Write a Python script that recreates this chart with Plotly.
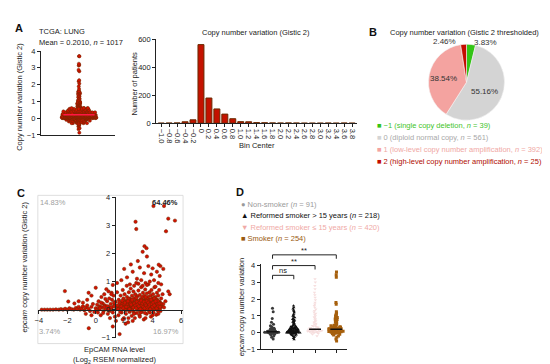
import math
import plotly.graph_objects as go

W, H = 550, 364
FONT = "Liberation Sans, Arial, sans-serif"

# ---------------- data ----------------
# Panel C: EpCAM RNA level (x) vs epcam CNV (y); y values reused for the panel A swarm
C_RNA = [
    -3.8, -3.6, -3.4, -3.2, -3.0, -2.8, -2.6, -2.45, -2.3, -2.15, -2.0, -1.85, -1.7, -1.55,
    -1.4, -1.3, -1.2, -1.1, -1.0, -0.9, -0.8, -0.7, -0.6, -0.5, -0.4, -0.3, -0.2, -0.1,
    -2.17, -1.93, -1.5, -1.2, -0.9, -0.6, -0.5, -0.3, 0.0, -0.49, -0.7, -0.3,
    0.0, 0.1, 0.15, 0.2, 0.25, 0.3, 0.35, 0.4, 0.45, 0.5, 0.55, 0.6, 0.65, 0.7, 0.75, 0.8,
    0.85, 0.9, 0.95, 1.0, 1.05, 1.1, 1.15, 1.2, 1.25, 1.3, 1.35, 1.4, 1.45, 1.5,
    0.05, 0.22, 0.38, 0.52, 0.68, 0.82, 0.97, 1.12, 1.28, 1.42,
    1.55, 1.6, 1.62, 1.68, 1.7, 1.75, 1.78, 1.82, 1.85, 1.9, 1.92, 1.95, 1.98, 2.0, 2.03,
    2.06, 2.1, 2.12, 2.15, 2.18, 2.2, 2.23, 2.25, 2.28, 2.3, 2.33, 2.36, 2.38, 2.4, 2.43,
    2.46, 2.48, 2.5, 2.53, 2.55, 2.58, 2.6, 2.62, 2.65, 2.68, 2.7, 2.72, 2.75, 2.78, 2.8,
    2.82, 2.85, 2.88, 2.9, 2.92, 2.95, 2.98, 3.0, 3.02, 3.05, 3.08, 3.1, 3.12, 3.15, 3.18,
    3.2, 3.22, 3.25, 3.28, 3.3, 3.32, 3.35, 3.38, 3.4, 3.42, 3.45, 3.48, 3.5, 3.52, 3.55,
    3.58, 3.6, 3.62, 3.65, 3.68, 3.7, 3.72, 3.75, 3.78, 3.8, 3.82, 3.85, 3.88, 3.9, 3.92,
    3.95, 3.98, 4.0, 4.03, 4.06, 4.1, 4.13, 4.16, 4.2, 4.23, 4.26, 4.3, 4.33, 4.36, 4.4,
    4.43, 4.46, 4.5, 4.55, 4.6, 4.65, 4.7, 4.75, 4.8, 4.9, 5.1, 5.2,
    1.65, 1.88, 2.08, 2.27, 2.44, 2.57, 2.66, 2.77, 2.87, 2.97, 3.04, 3.13, 3.23, 3.33,
    3.43, 3.53, 3.63, 3.73, 3.83, 3.93, 4.04, 4.14, 4.24, 4.34, 4.44, 2.52, 2.92, 3.27,
    3.57, 3.87, 4.18, 2.35, 2.72, 3.16, 3.46, 3.76, 4.08, 4.38, 2.2, 1.95,
    2.0, 2.6, 3.1, 3.4, 3.7, 3.9, 4.3, 4.5, 2.2, 2.9, 3.2, 3.5, 3.8, 4.1, 4.4, 1.5, 1.8,
    2.4, 2.7, 3.0, 3.3, 3.6, 4.2, 4.6, 1.2, 0.9, 1.1, 4.75, 4.55,
    2.1, 1.2, 2.6, 3.1, 3.5, 4.0, 4.4, 1.9, 2.3,
    4.06, 4.8, 5.1, 5.57, 4.94, 2.8, 2.85, 3.43, 3.57, 3.3, 3.6, 2.47, 2.96, 4.43, 4.0,
    1.52, 1.58, 1.66, 1.72, 1.8, 1.86, 1.94, 2.02, 2.09, 2.16, 2.24, 2.31, 2.39, 2.45, 2.51,
    2.59, 2.63, 2.69, 2.74, 2.81, 2.86, 2.91, 2.96, 3.01, 3.06, 3.11, 3.17, 3.21, 3.26, 3.31,
    3.36, 3.41, 3.47, 3.51, 3.56, 3.61, 3.66, 3.71, 3.77, 3.81, 3.86, 3.91, 3.96, 4.01, 4.07,
    4.11, 4.17, 4.22, 4.27, 4.32, 4.37, 4.42, 4.48, 4.53, 4.58,
    2.05, 2.14, 2.26, 2.37, 2.49, 2.56, 2.64, 2.71, 2.79, 2.84, 2.89, 2.94, 3.03, 3.09, 3.14,
    3.19, 3.24, 3.29, 3.34, 3.39, 3.44, 3.49, 3.54, 3.59, 3.64, 3.69, 3.74, 3.79, 3.84, 3.89,
    3.94, 3.99, 4.05, 4.12, 4.21, 4.29, 4.35, 4.41, 4.47, 4.52,
    0.3, 0.6, 0.9, 1.1, 1.3,
]
C_CNV = [
    0.0, 0.0, 0.0, 0.0, 0.0, 0.01, 0.0, 0.02, 0.0, 0.03, 0.0, 0.05, 0.02, 0.0,
    0.06, 0.02, 0.1, 0.0, 0.04, 0.12, -0.02, 0.07, 0.15, 0.03, -0.05, 0.1, 0.2, -0.08,
    0.66, 0.29, 0.22, 0.3, 0.25, 0.35, 0.6, 0.5, 0.78, -0.66, -0.15, -0.2,
    0.05, 0.18, -0.1, 0.3, 0.02, 0.12, -0.2, 0.45, 0.08, 0.22, -0.05, 0.55, 0.15, 0.02, 0.73, 0.3,
    -0.15, 0.1, 0.4, -0.3, 0.2, 0.05, 0.35, -0.1, 0.5, 0.15, -0.25, 0.28, 0.02, 0.62,
    -0.02, 0.08, 0.25, -0.12, 0.38, 0.12, -0.05, 0.6, 0.25, -0.4,
    0.1, -0.2, 0.35, -0.87, 0.05, 0.5, 0.18, -0.1, 0.28, 0.7, 0.02, 0.4, -0.3, 0.15, 0.55,
    0.08, 0.32, -0.15, 0.22, 0.85, 0.45, 0.0, 0.3, -0.45, 0.12, 0.62, 0.25, -0.08, 0.4, 0.18,
    0.75, 0.05, 0.35, -0.22, 0.5, 0.15, 0.28, -0.05, 0.65, 0.1, 0.42, 0.22, -0.3, 0.55, 0.08,
    0.35, 0.95, 0.18, -0.12, 0.48, 0.25, 0.02, 0.68, 0.3, 0.12, -0.2, 0.52, 0.2, 0.38, 0.05,
    0.8, 0.28, -0.08, 0.45, 0.15, 0.6, 0.32, -0.35, 0.1, 0.5, 0.22, 0.72, 0.02, 0.4, 0.18,
    -0.15, 0.58, 0.3, 0.08, 0.45, 0.9, 0.2, -0.05, 0.62, 0.35, 0.12, 0.5, -0.25, 0.25, 0.7,
    0.05, 0.42, 0.18, 0.55, -0.1, 0.3, 0.8, 0.1, 0.45, 0.22, -0.18, 0.6, 0.35, 0.05, 0.5,
    0.15, 0.7, 0.28, -0.05, 0.4, 0.12, 0.55, 0.2, 0.08, 0.3, 0.65, 0.55,
    0.12, 0.22, 0.02, 0.18, 0.3, 0.02, 0.2, 0.12, 0.3, 0.15, 0.22, 0.1, 0.18, 0.05,
    0.3, 0.25, 0.15, 0.35, 0.22, 0.12, 0.28, 0.2, 0.35, 0.15, 0.25, 0.1, 0.08, 0.35,
    0.4, 0.05, 0.02, 0.05, -0.12, -0.1, -0.12, 0.15, 0.4, -0.05, 0.2, 0.1,
    1.45, 1.35, 1.5, 1.3, 1.55, 1.25, 1.35, 1.2, 1.15, 1.1, 1.05, 0.95, 1.0, 1.05, 0.95, 0.95, 1.05,
    0.9, 0.85, 0.92, 0.85, 0.88, 0.82, 0.9, 0.88, 0.65, 0.55, 1.45, 1.55,
    -0.5, -0.6, -0.4, -0.25, -0.3, -0.2, -0.15, -0.35, -0.3,
    3.69, 3.69, 3.24, 3.17, 2.79, 3.13, 2.87, 2.26, 2.19, 2.06, 1.89, 1.61, 1.73, 1.6, 1.47,
    0.15, 0.02, 0.25, -0.08, 0.12, 0.32, 0.05, 0.2, -0.02, 0.28, 0.1, 0.38, 0.0, 0.22, 0.15,
    0.3, 0.08, -0.15, 0.25, 0.12, 0.42, 0.05, 0.18, 0.3, -0.02, 0.1, 0.22, 0.35, 0.0, 0.15,
    0.28, 0.08, 0.2, 0.45, 0.12, 0.02, 0.25, 0.18, 0.32, -0.1, 0.1, 0.22, 0.3, 0.05, 0.15,
    0.4, 0.25, 0.1, 0.2, 0.02, 0.3, 0.12, 0.18, 0.05, 0.22,
    0.25, 0.1, 0.3, 0.02, 0.18, 0.35, 0.08, 0.22, 0.15, 0.05, 0.28, 0.18, 0.12, 0.25, 0.02,
    0.32, 0.15, 0.22, 0.1, 0.28, 0.05, 0.2, 0.15, 0.3, 0.08, 0.25, 0.12, 0.18, 0.02, 0.35,
    0.2, 0.1, 0.25, 0.15, 0.3, 0.05, 0.2, 0.12, 0.22, 0.1,
    0.05, 0.1, 0.02, 0.08, 0.12,
]
assert len(C_RNA) == len(C_CNV), (len(C_RNA), len(C_CNV))
C_RNA_SPLIT = 1.33
C_QUADRANT_PCT = {"ul": "14.83%", "ur": "64.46%", "ll": "3.74%", "lr": "16.97%"}

A_MEAN = 0.2010
A_N = 1017
A_CORE = (-0.3, 0.6)   # value band drawn as the wide part of the swarm

HIST_BIN_CENTERS = [-1.0, -0.8, -0.6, -0.4, -0.2, 0.0, 0.2, 0.4, 0.6, 0.8, 1.0, 1.2, 1.4,
                    1.6, 1.8, 2.0, 2.2, 2.4, 2.6, 2.8, 3.0, 3.2, 3.4, 3.6, 3.8]
HIST_COUNTS = [0, 1, 2, 10, 24, 562, 180, 102, 65, 32, 11, 10, 4, 3, 2, 1, 2, 1, 0, 0, 0, 1, 0, 1, 0]

PIE_CLASSES = ["\u22121 (single copy deletion, ", "0 (diploid normal copy, ",
               "1 (low-level copy number amplification, ", "2 (high-level copy number amplification, "]
PIE_COUNTS = [39, 561, 392, 25]
PIE_COLORS = ["#33c416", "#d4d4d4", "#f4a3a0", "#c40d00"]
PIE_TEXT_COLORS = ["#3fc42a", "#a9a9a9", "#f0a8a4", "#b00c00"]

D_GROUPS = ["Non-smoker", "Reformed smoker > 15 years", "Reformed smoker \u2264 15 years", "Smoker"]
D_N = [91, 218, 420, 254]
D_VALUES = [
    [1.45, 1.25, 0.85, 0.62, 0.5, 0.42, 0.35, 0.3, 0.27, 0.24, 0.21, 0.19, 0.17, 0.15, 0.13, 0.12,
     0.11, 0.1, 0.09, 0.08, 0.08, 0.07, 0.07, 0.06, 0.06, 0.05, 0.05, 0.05, 0.04, 0.04, 0.03, 0.03,
     0.03, 0.02, 0.02, 0.02, 0.01, 0.01, 0.0, 0.0, 0.0, -0.01, -0.02, -0.03, -0.05, -0.07, -0.1,
     -0.14, -0.2, -0.28, -0.38],
    [1.6, 1.5, 1.42, 1.35, 1.28, 1.2, 1.12, 1.05, 1.0, 0.95, 0.9, 0.85, 0.8, 0.76, 0.72, 0.68, 0.64,
     0.6, 0.57, 0.54, 0.51, 0.48, 0.45, 0.42, 0.4, 0.38, 0.36, 0.34, 0.32, 0.3, 0.29, 0.28, 0.27,
     0.26, 0.25, 0.24, 0.23, 0.22, 0.21, 0.2, 0.19, 0.18, 0.17, 0.16, 0.15, 0.15, 0.14, 0.13, 0.12,
     0.12, 0.11, 0.1, 0.1, 0.09, 0.09, 0.08, 0.08, 0.07, 0.07, 0.06, 0.06, 0.05, 0.05, 0.05, 0.04,
     0.04, 0.03, 0.03, 0.03, 0.02, 0.02, 0.02, 0.01, 0.01, 0.01, 0.0, 0.0, 0.0, 0.0, -0.01, -0.01,
     -0.02, -0.02, -0.03, -0.04, -0.05, -0.06, -0.08, -0.1, -0.12, -0.15, -0.18, -0.22, -0.27,
     -0.33, -0.4],
    [3.2, 3.0, 2.8, 2.6, 2.4, 2.25, 2.1, 1.95, 1.8, 1.7, 1.6, 1.5, 1.4, 1.3, 1.22, 1.15, 1.08, 1.0,
     0.94, 0.88, 0.82, 0.76, 0.7, 0.65, 0.6, 0.55, 0.5, 0.46, 0.42, 0.38, 0.35, 0.32, 0.3, 0.28,
     0.26, 0.24, 0.22, 0.21, 0.2, 0.2, 0.19, 0.18, 0.17, 0.16, 0.15, 0.14, 0.13, 0.12, 0.11, 0.1,
     0.09, 0.08, 0.07, 0.06, 0.05, 0.04, 0.03, 0.02, 0.01, 0.0, -0.02, -0.05, -0.1, -0.2],
    [3.62, 3.45, 3.3, 1.8, 1.7, 1.25, 1.18, 1.1, 1.05, 1.0, 0.95, 0.9, 0.86, 0.82, 0.78, 0.74, 0.7,
     0.66, 0.62, 0.58, 0.55, 0.52, 0.49, 0.46, 0.44, 0.42, 0.4, 0.38, 0.36, 0.34, 0.32, 0.3, 0.29,
     0.28, 0.27, 0.26, 0.25, 0.24, 0.23, 0.22, 0.21, 0.2, 0.2, 0.19, 0.18, 0.17, 0.16, 0.15, 0.14,
     0.13, 0.12, 0.11, 0.1, 0.09, 0.08, 0.07, 0.06, 0.05, 0.04, 0.03, 0.02, 0.01, 0.0, -0.02,
     -0.04, -0.07, -0.1, -0.14, -0.2, -0.28, -0.38, -0.5],
]
D_MEDIANS = [0.05, 0.1, 0.21, 0.2]
D_CORE = (-0.2, 0.45)
D_SYMBOLS = ["circle", "triangle-up", "triangle-down", "square"]
D_GLYPHS = ["\u25cf", "\u25b2", "\u25bc", "\u25a0"]
D_COLORS = ["#3a3a3a", "#111111", "#f6dede", "#a65f0c"]
D_LEGEND_COLORS = ["#9a9a9a", "#111111", "#f0aaa6", "#9a5a10"]
D_BRACKETS = [(1, 2, "ns", 3.42), (1, 3, "**", 4.0), (1, 4, "**", 4.64)]

FS = 7.5  # base font size


# ---------------- helpers ----------------
def dx(a, b):
    return [a / W, b / W]


def dy(top, bottom):
    return [1 - bottom / H, 1 - top / H]


def px(x):
    return x / W


def py(y):
    return 1 - y / H


ann = []


def text(x, y, s, size=FS, color="#222", xanchor="center", yanchor="middle", angle=0, bold=False):
    if bold:
        s = "<b>" + s + "</b>"
    ann.append(dict(x=px(x), y=py(y), xref="paper", yref="paper", text=s, showarrow=False,
                    xanchor=xanchor, yanchor=yanchor, textangle=angle,
                    font=dict(size=size, color=color, family=FONT)))


def swarm(vals, x0, width, core, jit_core, jit_tail, marker, xa, ya):
    core_v = [v for v in vals if core[0] <= v <= core[1]]
    tail_v = [v for v in vals if not (core[0] <= v <= core[1])]
    for part, jit in ((tail_v, jit_tail), (core_v, jit_core)):
        fig.add_trace(go.Box(y=part, x0=x0, boxpoints="all", jitter=jit, pointpos=0, width=width,
                             marker=marker, line=dict(color="rgba(0,0,0,0)", width=0),
                             fillcolor="rgba(0,0,0,0)", xaxis=xa, yaxis=ya, hoverinfo="skip"))


fig = go.Figure()
axis_common = dict(showgrid=False, zeroline=False, linecolor="#222", linewidth=1,
                   ticks="outside", ticklen=3, tickcolor="#222", tickwidth=1,
                   tickfont=dict(size=FS, family=FONT, color="#222"))

PT_RED = "#d41000"
PT_EDGE = "#6e2a00"

# ---------------- Panel A ----------------
swarm(C_CNV, 0, 1.0, A_CORE, 1.0, 0.12,
      dict(size=3.2, color=PT_RED, line=dict(color=PT_EDGE, width=0.5)), "x", "y")
fig.add_trace(go.Scatter(x=[-0.45, 0.45], y=[A_MEAN, A_MEAN], mode="lines",
                         line=dict(color="#ff1744", width=1.6), xaxis="x", yaxis="y"))
A_DOM = dict(x=dx(30, 105), y=dy(40, 126))
fig.update_layout(
    xaxis=dict(domain=A_DOM["x"], range=[-1.1, 1.05], showticklabels=False, ticks="",
               showline=True, showgrid=False, zeroline=False, linecolor="#222", anchor="y"),
    yaxis=dict(domain=A_DOM["y"], range=[-1, 4], tickvals=[-1, 0, 1, 2, 3, 4], showline=True,
               anchor="x", **axis_common),
)
text(8, 16, "A", size=11, bold=True, color="#111")
text(26, 20, "TCGA: LUNG", xanchor="left")
text(26, 31, f"Mean = {A_MEAN:.4f}, <i>n</i> = {A_N}", xanchor="left")
text(9, 87, "Copy number variation (Gistic 2)", angle=-90)

# ---------------- Histogram ----------------
fig.add_trace(go.Bar(x=HIST_BIN_CENTERS, y=HIST_COUNTS, width=0.15,
                     marker=dict(color="#c41200", line=dict(color="#6a2a00", width=1)),
                     xaxis="x2", yaxis="y2"))
hist_labels = ["0" if v == 0 else f"{v:.1f}".replace("-", "\u2212") for v in HIST_BIN_CENTERS]
fig.update_layout(
    xaxis2=dict(domain=dx(146, 348), range=[-1.125, 3.925], tickvals=HIST_BIN_CENTERS,
                ticktext=hist_labels, tickangle=90, showline=True, anchor="y2", **axis_common),
    yaxis2=dict(domain=dy(28, 114), range=[0, 600], tickvals=[0, 200, 400, 600], showline=True,
                anchor="x2", **axis_common),
)
text(246, 21, "Copy number variation (Gistic 2)")
text(247, 137, "Bin Center")
text(124, 73, "Number of patients", angle=-90)

# ---------------- Panel B (pie) ----------------
PIE_DOM = dict(x=dx(419, 497), y=dy(33, 111))
fig.add_trace(go.Pie(values=PIE_COUNTS, marker=dict(colors=PIE_COLORS, line=dict(color="#f4f4f4", width=0.6)),
                     sort=False, direction="clockwise", rotation=0, textinfo="none",
                     domain=PIE_DOM, showlegend=False, hoverinfo="skip"))
total = sum(PIE_COUNTS)
pcts = [100 * c / total for c in PIE_COUNTS]
cx, cy, r = 458, 72, 39
cum = 0
inside_pos = {}
for i, p in enumerate(pcts):
    mid = cum + p / 2
    cum += p
    ang = math.radians(90 - mid * 3.6)
    inside_pos[i] = (cx + 0.5 * r * math.cos(ang), cy - 0.5 * r * math.sin(ang))
text(inside_pos[1][0], inside_pos[1][1] + 2, f"{pcts[1]:.2f}%", size=8, color="#333")
text(inside_pos[2][0] - 4, inside_pos[2][1], f"{pcts[2]:.2f}%", size=8, color="#333")
text(436, 30, f"{pcts[3]:.2f}%", size=8, color="#333")
text(477, 31, f"{pcts[0]:.2f}%", size=8, color="#333")
text(364, 20, "B", size=11, bold=True, color="#111")
text(456, 21, "Copy number variation (Gistic 2 thresholded)")
for i, (lab, n) in enumerate(zip(PIE_CLASSES, PIE_COUNTS)):
    text(366, 116 + i * 12.5, f"<span style='color:{PIE_COLORS[i]}'>\u25a0</span> {lab}<i>n</i> = {n})",
         xanchor="left", color=PIE_TEXT_COLORS[i])

# ---------------- Panel C ----------------
C_X = (27, 173, -4.07, 6.14)
C_Y = (190, 334, -1, 4)
fig.add_trace(go.Scatter(x=C_RNA, y=C_CNV, mode="markers",
                         marker=dict(size=3.4, color=PT_RED, line=dict(color=PT_EDGE, width=0.5)),
                         xaxis="x3", yaxis="y3", hoverinfo="skip"))
c_y0_px = C_Y[1] - (0 - C_Y[2]) / (C_Y[3] - C_Y[2]) * (C_Y[1] - C_Y[0])
c_x0_px = C_X[0] + (C_RNA_SPLIT - C_X[2]) / (C_X[3] - C_X[2]) * (C_X[1] - C_X[0])
fig.update_layout(
    xaxis3=dict(domain=dx(C_X[0], C_X[1]), range=[C_X[2], C_X[3]], tickvals=[-4, -2, 0, 2, 4, 6],
                showline=True, anchor="free", position=py(c_y0_px), **axis_common),
    yaxis3=dict(domain=dy(C_Y[0], C_Y[1]), range=[C_Y[2], C_Y[3]], tickvals=[-1, 0, 1, 2, 3, 4],
                showline=True, anchor="free", position=px(c_x0_px), **axis_common),
)
shapes = [dict(type="rect", xref="paper", yref="paper", x0=px(27), x1=px(173), y0=py(340), y1=py(188),
               line=dict(color="#d6d6d6", width=0.8), layer="below")]
text(10, 186, "C", size=11, bold=True, color="#111")
text(42, 195, C_QUADRANT_PCT["ul"], color="#a0a0a0")
text(155, 195, C_QUADRANT_PCT["ur"], color="#222", bold=True)
text(39, 328, C_QUADRANT_PCT["ll"], color="#a0a0a0")
text(156, 328, C_QUADRANT_PCT["lr"], color="#a0a0a0")
text(104, 346, "EpCAM RNA level")
text(104, 357, "(Log<sub>2</sub> RSEM normalized)")
text(14, 261, "<i>epcam</i> copy number variation (Gistic 2)", angle=-90)

# ---------------- Panel D ----------------
D_X = (251, 338, 0.44, 4.51)
D_Y = (258.3, 346, -1, 4.1)
for g, vals in enumerate(D_VALUES):
    swarm(vals, g + 1, 0.8, D_CORE, 0.95, 0.15,
          dict(size=3, color=D_COLORS[g], symbol=D_SYMBOLS[g], line=dict(width=0)), "x4", "y4")
for g, m in enumerate(D_MEDIANS):
    fig.add_trace(go.Scatter(x=[g + 1 - 0.28, g + 1 + 0.28], y=[m, m], mode="lines",
                             line=dict(color="#111", width=1.5), xaxis="x4", yaxis="y4"))
fig.update_layout(
    xaxis4=dict(domain=dx(D_X[0], D_X[1]), range=[D_X[2], D_X[3]], tickvals=[1, 2, 3, 4],
                showticklabels=False, showline=True, anchor="y4", **axis_common),
    yaxis4=dict(domain=dy(D_Y[0], D_Y[1]), range=[D_Y[2], D_Y[3]], tickvals=[-1, 0, 1, 2, 3, 4],
                showline=True, anchor="x4", **axis_common),
)


def d_ypx(v):
    return D_Y[1] - (v - D_Y[2]) / (D_Y[3] - D_Y[2]) * (D_Y[1] - D_Y[0])


for a, b, lab, lvl in D_BRACKETS:
    ytop = py(d_ypx(lvl))
    ybot = py(d_ypx(lvl) + 4)
    shapes.append(dict(type="path", xref="x4", yref="paper",
                       path=f"M {a},{ybot} L {a},{ytop} L {b},{ytop} L {b},{ybot}",
                       line=dict(color="#222", width=1)))
    ann.append(dict(x=(a + b) / 2, y=ytop, xref="x4", yref="paper", text=lab, showarrow=False,
                    yanchor="bottom", yshift=-2, font=dict(size=FS, color="#222", family=FONT)))
text(230, 185, "D", size=11, bold=True, color="#111")
for i, (gname, n) in enumerate(zip(D_GROUPS, D_N)):
    text(229, 197.5 + i * 11.6, f"{D_GLYPHS[i]} {gname} (<i>n</i> = {n})", xanchor="left",
         color=D_LEGEND_COLORS[i])
text(232, 303, "<i>epcam</i> copy number variation", angle=-90)

fig.update_layout(width=W, height=H, margin=dict(l=0, r=0, t=0, b=0), showlegend=False,
                  paper_bgcolor="white", plot_bgcolor="white", annotations=ann, shapes=shapes,
                  bargap=0.25, font=dict(family=FONT))
fig.write_html("out.html")
